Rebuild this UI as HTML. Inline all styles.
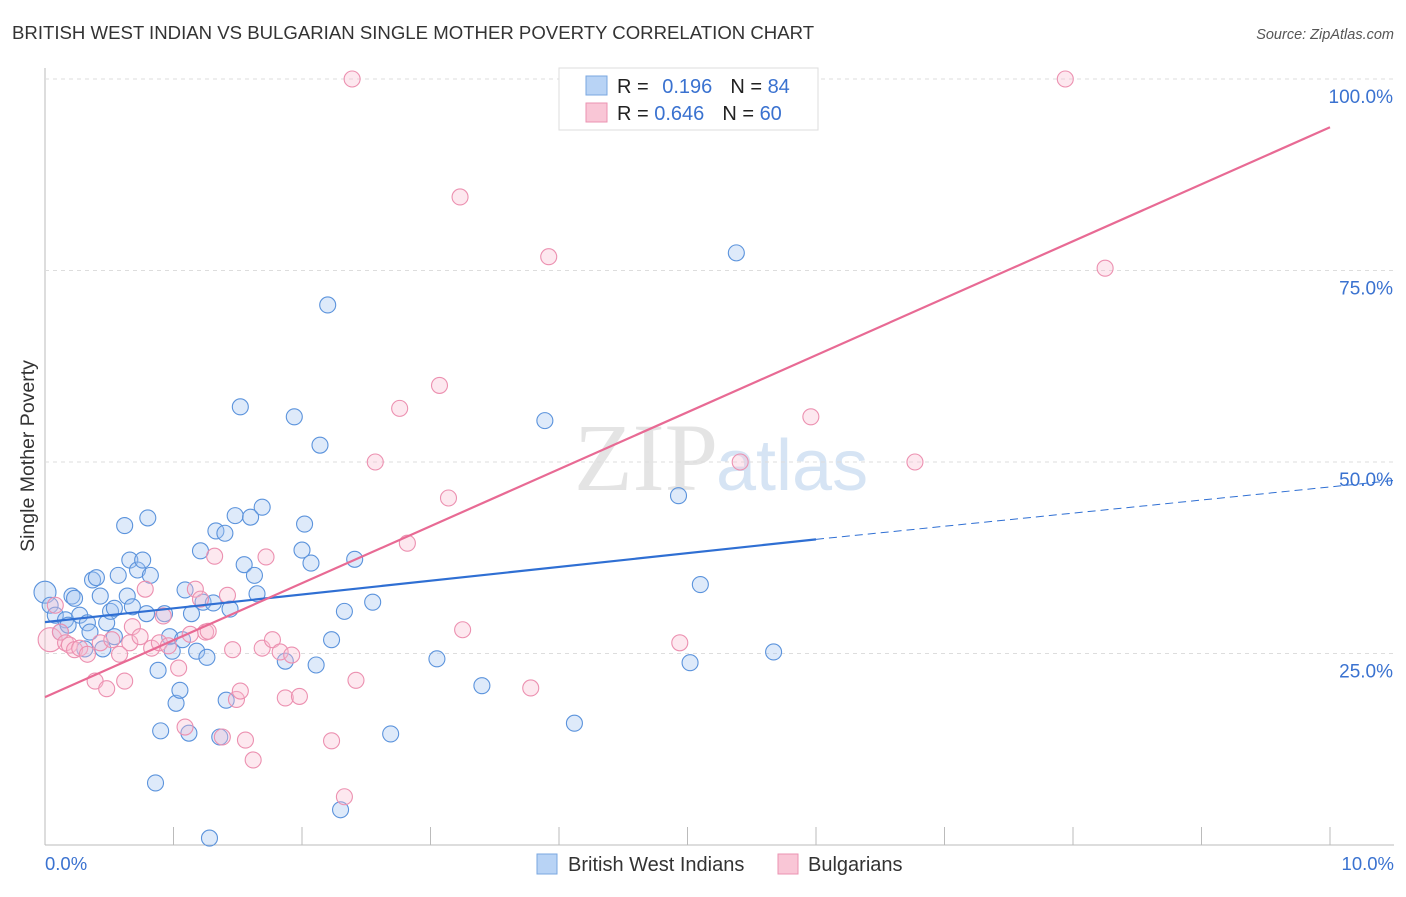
<!DOCTYPE html>
<html><head><meta charset="utf-8"><style>
body{margin:0;background:#fff;font-family:"Liberation Sans",sans-serif;}
</style></head><body>
<svg id="chart" width="1406" height="892" xmlns="http://www.w3.org/2000/svg">
<text x="12" y="39" font-size="18.6" fill="#333">BRITISH WEST INDIAN VS BULGARIAN SINGLE MOTHER POVERTY CORRELATION CHART</text>
<text x="1394" y="39" font-size="14.5" fill="#555" font-style="italic" text-anchor="end">Source: ZipAtlas.com</text>
<text x="34" y="456" font-size="19.5" fill="#333" transform="rotate(-90 34 456)" text-anchor="middle">Single Mother Poverty</text>
<text x="718" y="490" font-size="96" fill="#e4e4e4" text-anchor="end" font-family="Liberation Serif,serif">ZIP</text>
<text x="716" y="490" font-size="72" fill="#d6e4f4">atlas</text>
<g id="grid"></g><g id="pts"></g><g id="lines"></g>
<g>
<rect x="559" y="68" width="259" height="62" fill="#fff" stroke="#ddd"/>
<rect x="586" y="76" width="21" height="19" fill="#b8d3f5" stroke="#7aa7e0"/>
<rect x="586" y="103" width="21" height="19" fill="#f9c6d6" stroke="#eb93b2"/>
<text x="617" y="93" font-size="20" fill="#222">R = <tspan fill="#3a72d0" dx="8">0.196</tspan><tspan dx="18" fill="#222">N = </tspan><tspan fill="#3a72d0">84</tspan></text>
<text x="617" y="120" font-size="20" fill="#222">R = <tspan fill="#3a72d0">0.646</tspan><tspan dx="18" fill="#222">N = </tspan><tspan fill="#3a72d0">60</tspan></text>
</g>
<g>
<rect x="537" y="854" width="20" height="20" fill="#b8d3f5" stroke="#7aa7e0"/>
<text x="568" y="871" font-size="20" fill="#333">British West Indians</text>
<rect x="778" y="854" width="20" height="20" fill="#f9c6d6" stroke="#eb93b2"/>
<text x="808" y="871" font-size="20" fill="#333">Bulgarians</text>
</g>
<text x="45" y="870" font-size="18.5" fill="#3a72d0">0.0%</text>
<text x="1394" y="870" font-size="18.5" fill="#3a72d0" text-anchor="end">10.0%</text>
</svg>
<script>
const yTicks=[25,50,75,100];
const yTickLabels=["25.0%","50.0%","75.0%","100.0%"];
const blueX=[0,0.04,0.08,0.12,0.16,0.18,0.21,0.23,0.27,0.31,0.33,0.35,0.37,0.4,0.43,0.45,0.48,0.51,0.54,0.54,0.57,0.62,0.64,0.66,0.68,0.72,0.76,0.79,0.8,0.82,0.86,0.88,0.9,0.93,0.97,0.99,1.02,1.05,1.07,1.09,1.12,1.14,1.18,1.21,1.23,1.26,1.28,1.31,1.33,1.36,1.4,1.41,1.44,1.48,1.52,1.55,1.6,1.63,1.65,1.69,1.87,1.94,2.0,2.02,2.07,2.11,2.14,2.2,2.23,2.3,2.33,2.41,2.55,2.69,3.05,3.4,3.89,4.12,4.93,5.02,5.1,5.38,5.67];
const blueY=[33,31.3,30,27.8,29.4,28.7,32.5,32.2,30,25.6,29,27.8,34.6,34.9,32.5,25.6,29,30.5,27.2,30.9,35.2,41.7,32.5,37.2,31.1,35.9,37.2,30.2,42.7,35.2,8.1,22.8,14.9,30.2,27.2,25.3,18.5,20.2,26.8,33.3,14.6,30.2,25.3,38.4,31.7,24.5,0.9,31.6,41,14.1,40.7,18.9,30.8,43,57.2,36.6,42.8,35.2,32.8,44.1,24,55.9,38.5,41.9,36.8,23.5,52.2,70.5,26.8,4.6,30.5,37.3,31.7,14.5,24.3,20.8,55.4,15.9,45.6,23.8,34,77.3,25.2];
const pinkX=[0.04,0.08,0.12,0.16,0.19,0.23,0.27,0.33,0.39,0.43,0.48,0.52,0.58,0.62,0.66,0.68,0.74,0.78,0.83,0.89,0.92,0.96,1.04,1.09,1.13,1.17,1.21,1.25,1.27,1.32,1.38,1.42,1.46,1.49,1.52,1.56,1.62,1.69,1.72,1.77,1.83,1.87,1.92,1.98,2.23,2.33,2.39,2.42,2.57,2.76,2.82,3.07,3.14,3.23,3.25,3.78,3.92,4.94,5.41,5.96,6.77,7.94,8.25];
const pinkY=[26.8,31.3,27.8,26.4,26.1,25.5,25.7,24.9,21.4,26.4,20.4,26.8,24.9,21.4,26.4,28.5,27.2,33.4,25.7,26.4,29.9,26,23.1,15.4,27.5,33.4,32.1,27.8,27.9,37.7,14.1,32.6,25.5,19,20.1,13.7,11.1,25.7,37.6,26.8,25.2,19.2,24.8,19.4,13.6,6.3,100,21.5,50,57,39.4,60,45.3,84.6,28.1,20.5,76.8,26.4,50,55.9,50,100,75.3];
const X0=45,X1=1330,Y0=845,SY=7.66;
const sx=v=>X0+(X1-X0)*v/10, sy=v=>Y0-v*SY;
const NS="http://www.w3.org/2000/svg";
function mk(tag,attrs,parent){const e=document.createElementNS(NS,tag);for(const k in attrs)e.setAttribute(k,attrs[k]);parent.appendChild(e);return e;}
const grid=document.getElementById('grid');
mk('line',{x1:45,y1:845,x2:1394,y2:845,stroke:'#bbb'},grid);
mk('line',{x1:45,y1:68,x2:45,y2:845,stroke:'#bbb'},grid);
yTicks.forEach((t,i)=>{
 const l=mk('line',{x1:45,y1:sy(t),x2:1394,y2:sy(t),stroke:'#ddd','stroke-dasharray':'4,4'},grid);
 
 
 const tx=mk('text',{x:1393,y:sy(t)+24,'font-size':19,fill:'#3a72d0','text-anchor':'end'},grid);
 tx.textContent=yTickLabels[i];
 
 
});
for(let i=1;i<=10;i++){const l=mk('line',{x1:sx(i),y1:827,x2:sx(i),y2:845,stroke:'#bbb'},grid);
 
 }
const pts=document.getElementById('pts');
blueX.forEach((x,i)=>{const c=mk('circle',{cx:sx(x),cy:sy(blueY[i]),r:i==0?11:8,fill:'rgba(160,195,240,0.35)',stroke:'#5b93dc','stroke-width':1.1},pts);
 
 });
pinkX.forEach((x,i)=>{const c=mk('circle',{cx:sx(x),cy:sy(pinkY[i]),r:i==0?12:8,fill:'rgba(248,190,208,0.35)',stroke:'#ec90b0','stroke-width':1.1},pts);
 
 });
const ln=document.getElementById('lines');
const bl=mk('line',{x1:sx(0),y1:sy(29.1),x2:sx(6),y2:sy(39.9),stroke:'#2f6fd3','stroke-width':2.2},ln);


const bd=mk('line',{x1:sx(6),y1:sy(39.9),x2:sx(10.5),y2:sy(47.6),stroke:'#2f6fd3','stroke-width':1,'stroke-dasharray':'8,5'},ln);


const pl=mk('line',{x1:sx(0),y1:sy(19.3),x2:sx(10),y2:sy(93.7),stroke:'#e86a94','stroke-width':2.2},ln);


</script>
</body></html>
